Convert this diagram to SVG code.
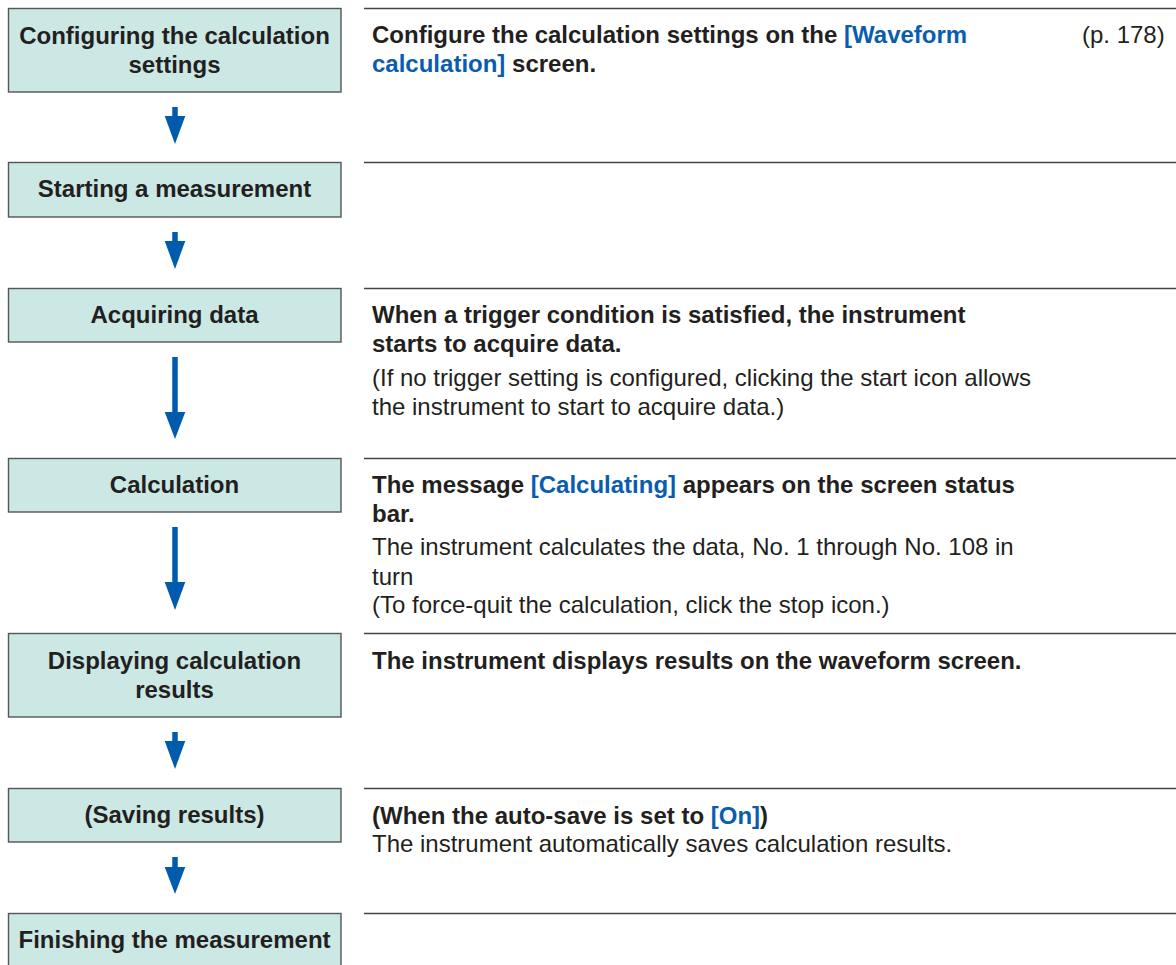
<svg xmlns="http://www.w3.org/2000/svg" width="1176" height="965" viewBox="0 0 1176 965">
<defs>
<style>
.box{fill:#cbe8e5;stroke:#555;stroke-width:1.4}
.lbl{font-family:"Liberation Sans",Arial,sans-serif;font-size:24px;font-weight:bold;fill:#231f20;text-anchor:middle}
.tb{font-family:"Liberation Sans",Arial,sans-serif;font-size:24px;font-weight:bold;fill:#231f20}
.tr{font-family:"Liberation Sans",Arial,sans-serif;font-size:24px;fill:#231f20}
.blue{fill:#0a5cb0}
.sep{stroke:#444;stroke-width:1.4}
.shaft{stroke:#005bac;stroke-width:5.5}
.head{fill:#005bac}
</style>
</defs>
<rect width="1176" height="965" fill="#fff"/>
<g id="separators">
<line class="sep" x1="364" y1="8.5" x2="1176" y2="8.5"/>
<line class="sep" x1="364" y1="162.5" x2="1176" y2="162.5"/>
<line class="sep" x1="364" y1="288.5" x2="1176" y2="288.5"/>
<line class="sep" x1="364" y1="458.5" x2="1176" y2="458.5"/>
<line class="sep" x1="364" y1="633.5" x2="1176" y2="633.5"/>
<line class="sep" x1="364" y1="788.5" x2="1176" y2="788.5"/>
<line class="sep" x1="364" y1="913.5" x2="1176" y2="913.5"/>
</g>
<g id="node1">
<rect class="box" x="8.5" y="8.5" width="332.5" height="83.5"/>
<text class="lbl" x="174.5" y="44">Configuring the calculation</text>
<text class="lbl" x="174.5" y="73">settings</text>
</g>
<g id="node2">
<rect class="box" x="8.5" y="162.5" width="332.5" height="54.5"/>
<text class="lbl" x="174.5" y="197">Starting a measurement</text>
</g>
<g id="node3">
<rect class="box" x="8.5" y="288.5" width="332.5" height="53.5"/>
<text class="lbl" x="174.5" y="323">Acquiring data</text>
</g>
<g id="node4">
<rect class="box" x="8.5" y="458.5" width="332.5" height="53.5"/>
<text class="lbl" x="174.5" y="493">Calculation</text>
</g>
<g id="node5">
<rect class="box" x="8.5" y="633.5" width="332.5" height="83.5"/>
<text class="lbl" x="174.5" y="669">Displaying calculation</text>
<text class="lbl" x="174.5" y="698">results</text>
</g>
<g id="node6">
<rect class="box" x="8.5" y="788.5" width="332.5" height="53.5"/>
<text class="lbl" x="174.5" y="823">(Saving results)</text>
</g>
<g id="node7">
<rect class="box" x="8.5" y="913.5" width="332.5" height="70"/>
<text class="lbl" x="174.5" y="948">Finishing the measurement</text>
</g>
<g id="connectors">
<line class="shaft" x1="175" y1="107" x2="175" y2="118"/>
<polygon class="head" points="164.7,116 185.3,116 175,144"/>
<line class="shaft" x1="175" y1="232" x2="175" y2="243"/>
<polygon class="head" points="164.7,241 185.3,241 175,269"/>
<line class="shaft" x1="175" y1="357" x2="175" y2="414"/>
<polygon class="head" points="164.7,412 185.3,412 175,439"/>
<line class="shaft" x1="175" y1="527" x2="175" y2="584"/>
<polygon class="head" points="164.7,582 185.3,582 175,610"/>
<line class="shaft" x1="175" y1="732" x2="175" y2="743"/>
<polygon class="head" points="164.7,741 185.3,741 175,769"/>
<line class="shaft" x1="175" y1="857" x2="175" y2="869"/>
<polygon class="head" points="164.7,867 185.3,867 175,894"/>
</g>
<g id="desc1">
<text class="tb" x="372" y="43">Configure the calculation settings on the <tspan class="blue">[Waveform</tspan></text>
<text class="tb" x="372" y="72"><tspan class="blue">calculation]</tspan> screen.</text>
<text class="tr" x="1082" y="43">(p. 178)</text>
</g>
<g id="desc3">
<text class="tb" x="372" y="323">When a trigger condition is satisfied, the instrument</text>
<text class="tb" x="372" y="352">starts to acquire data.</text>
<text class="tr" x="372" y="386">(If no trigger setting is configured, clicking the start icon allows</text>
<text class="tr" x="372" y="415">the instrument to start to acquire data.)</text>
</g>
<g id="desc4">
<text class="tb" x="372" y="493">The message <tspan class="blue">[Calculating]</tspan> appears on the screen status</text>
<text class="tb" x="372" y="522">bar.</text>
<text class="tr" x="372" y="555">The instrument calculates the data, No. 1 through No. 108 in</text>
<text class="tr" x="372" y="585">turn</text>
<text class="tr" x="372" y="613">(To force-quit the calculation, click the stop icon.)</text>
</g>
<g id="desc5">
<text class="tb" x="372" y="669">The instrument displays results on the waveform screen.</text>
</g>
<g id="desc6">
<text class="tb" x="372" y="824">(When the auto-save is set to <tspan class="blue">[On]</tspan>)</text>
<text class="tr" x="372" y="852">The instrument automatically saves calculation results.</text>
</g>
</svg>
